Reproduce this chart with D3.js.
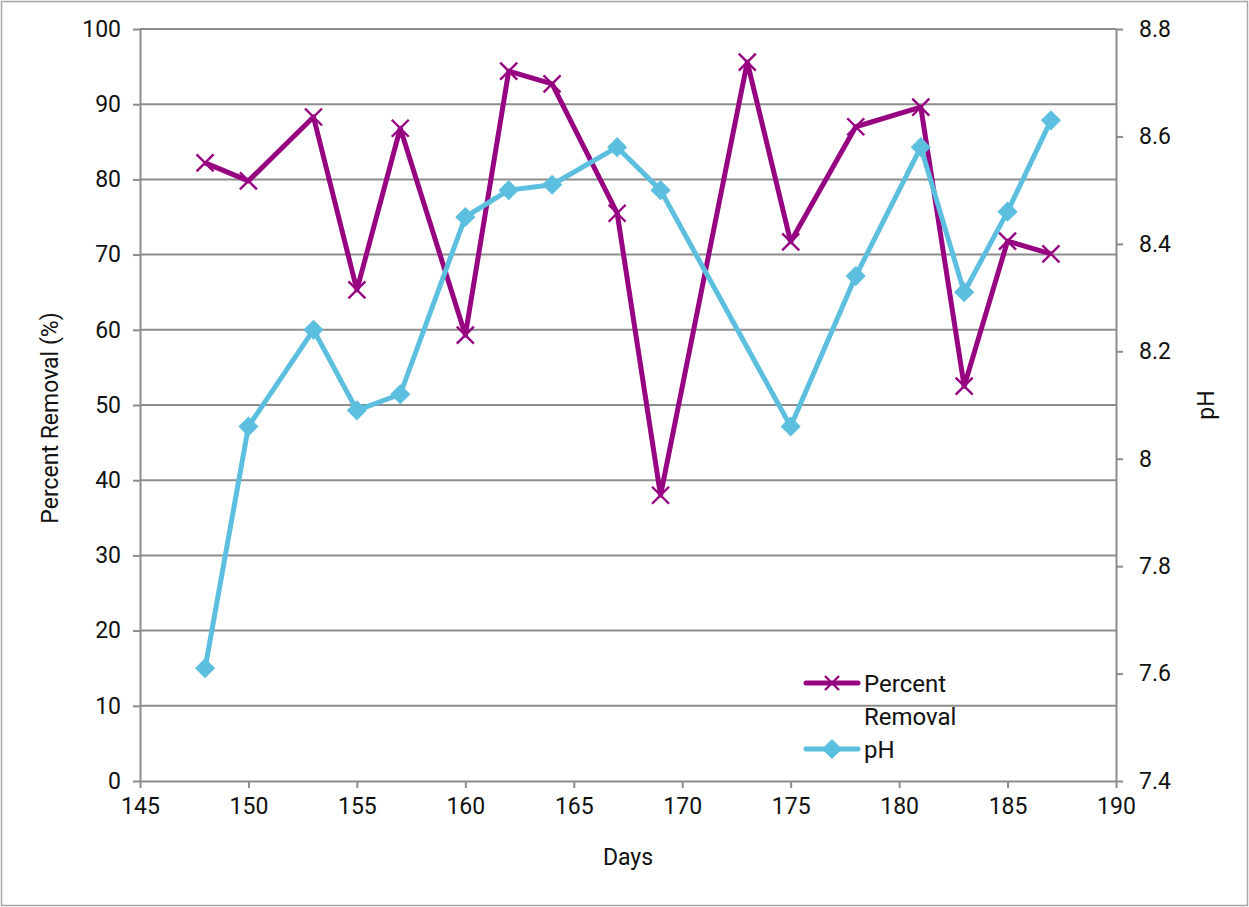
<!DOCTYPE html>
<html>
<head>
<script src="https://d3js.org/d3.v7.min.js"></script>
<style>
  body { margin: 0; background: #fff; }
  text { font-family: Roboto, "Open Sans", sans-serif; fill: #111; }
</style>
</head>
<body>
<svg id="chart" width="1249" height="907"></svg>
<script>
// data
var days = [148, 150, 153, 155, 157, 160, 162, 164, 167, 169, 173, 175, 178, 181, 183, 185, 187];
var removal = [82.2, 79.8, 88.3, 65.3, 86.8, 59.3, 94.4, 92.7, 75.5, 38.0, 95.6, 71.7, 87.0, 89.6, 52.5, 71.8, 70.1];
var phDays = [148, 150, 153, 155, 157, 160, 162, 164, 167, 169, 175, 178, 181, 183, 185, 187];
var ph = [7.61, 8.06, 8.24, 8.09, 8.12, 8.45, 8.50, 8.51, 8.58, 8.50, 8.06, 8.34, 8.58, 8.31, 8.46, 8.63];
var xTicks = [145, 150, 155, 160, 165, 170, 175, 180, 185, 190];
var leftTicks = [0, 10, 20, 30, 40, 50, 60, 70, 80, 90, 100];
var rightTicks = [7.4, 7.6, 7.8, 8, 8.2, 8.4, 8.6, 8.8];

var purple = "#970481", blue = "#5dbfdf", grid = "#8c8c8c";
var svg = d3.select("#chart");

// outer frame
svg.append("rect").attr("x", 1.5).attr("y", 1.5).attr("width", 1246).attr("height", 904)
  .attr("fill", "none").attr("stroke", "#a6a6a6").attr("stroke-width", 1.5);

var plotL = 140, plotR = 1116, plotT = 29, plotB = 781;
var x = d3.scaleLinear().domain([145, 190]).range([plotL, plotR]);
var yL = d3.scaleLinear().domain([0, 100]).range([plotB, plotT]);
var yR = d3.scaleLinear().domain([7.4, 8.8]).range([plotB, plotT]);

// gridlines
svg.append("g").selectAll("line").data(leftTicks.slice(1)).join("line")
  .attr("x1", plotL).attr("x2", plotR)
  .attr("y1", d => yL(d)).attr("y2", d => yL(d))
  .attr("stroke", grid).attr("stroke-width", 2);

function styleAxis(g) {
  g.select(".domain").attr("stroke", grid).attr("stroke-width", 2);
  g.selectAll(".tick line").attr("stroke", grid).attr("stroke-width", 2);
  g.selectAll(".tick text").attr("font-size", 23).attr("fill", "#111")
    .attr("font-family", "Roboto, sans-serif");
}

svg.append("g").attr("transform", "translate(" + plotL + ",0)")
  .call(d3.axisLeft(yL).tickValues(leftTicks).tickSize(7).tickSizeOuter(0).tickPadding(12))
  .call(styleAxis);

svg.append("g").attr("transform", "translate(" + plotR + ",0)")
  .call(d3.axisRight(yR).tickValues(rightTicks).tickSize(7).tickSizeOuter(0).tickPadding(16)
    .tickFormat(d => d === 8 ? "8" : d3.format(".1f")(d)))
  .call(styleAxis);

svg.append("g").attr("transform", "translate(0," + plotB + ")")
  .call(d3.axisBottom(x).tickValues(xTicks).tickSize(7).tickSizeOuter(0).tickPadding(10))
  .call(styleAxis);

// axis titles
svg.append("text").attr("transform", "translate(58,418) rotate(-90)")
  .attr("text-anchor", "middle").attr("font-size", 23).text("Percent Removal (%)");
svg.append("text").attr("transform", "translate(1214,405) rotate(-90)")
  .attr("text-anchor", "middle").attr("font-size", 23).text("pH");
svg.append("text").attr("x", 628).attr("y", 865)
  .attr("text-anchor", "middle").attr("font-size", 23).text("Days");

// percent removal series
var remPts = days.map((d, i) => [x(d), yL(removal[i])]);
svg.append("path").attr("d", d3.line()(remPts))
  .attr("fill", "none").attr("stroke", purple).attr("stroke-width", 5).attr("stroke-linejoin", "round");
function cross(g, cx, cy, s) {
  g.append("path").attr("d", "M" + (cx - s) + "," + (cy - s) + "L" + (cx + s) + "," + (cy + s) +
      "M" + (cx - s) + "," + (cy + s) + "L" + (cx + s) + "," + (cy - s))
    .attr("stroke", purple).attr("stroke-width", 2.4).attr("fill", "none");
}
var gx = svg.append("g");
remPts.forEach(p => cross(gx, p[0], p[1], 8.5));

// pH series
var phPts = phDays.map((d, i) => [x(d), yR(ph[i])]);
svg.append("path").attr("d", d3.line()(phPts))
  .attr("fill", "none").attr("stroke", blue).attr("stroke-width", 5).attr("stroke-linejoin", "round");
var diamond = d3.symbol().type(d3.symbolDiamond2).size(260);
svg.append("g").selectAll("path").data(phPts).join("path")
  .attr("transform", d => "translate(" + d[0] + "," + d[1] + ")")
  .attr("d", diamond).attr("fill", blue);

// legend
var lg = svg.append("g");
lg.append("line").attr("x1", 806).attr("x2", 858).attr("y1", 683).attr("y2", 683)
  .attr("stroke", purple).attr("stroke-width", 5).attr("stroke-linecap", "round");
cross(lg, 832, 683, 7);
lg.append("text").attr("x", 864).attr("y", 692).attr("font-size", 24).text("Percent");
lg.append("text").attr("x", 864).attr("y", 725).attr("font-size", 24).text("Removal");
lg.append("line").attr("x1", 806).attr("x2", 858).attr("y1", 749).attr("y2", 749)
  .attr("stroke", blue).attr("stroke-width", 5).attr("stroke-linecap", "round");
lg.append("path").attr("transform", "translate(832,749)").attr("d", diamond).attr("fill", blue);
lg.append("text").attr("x", 864).attr("y", 758).attr("font-size", 24).text("pH");
</script>
</body>
</html>
